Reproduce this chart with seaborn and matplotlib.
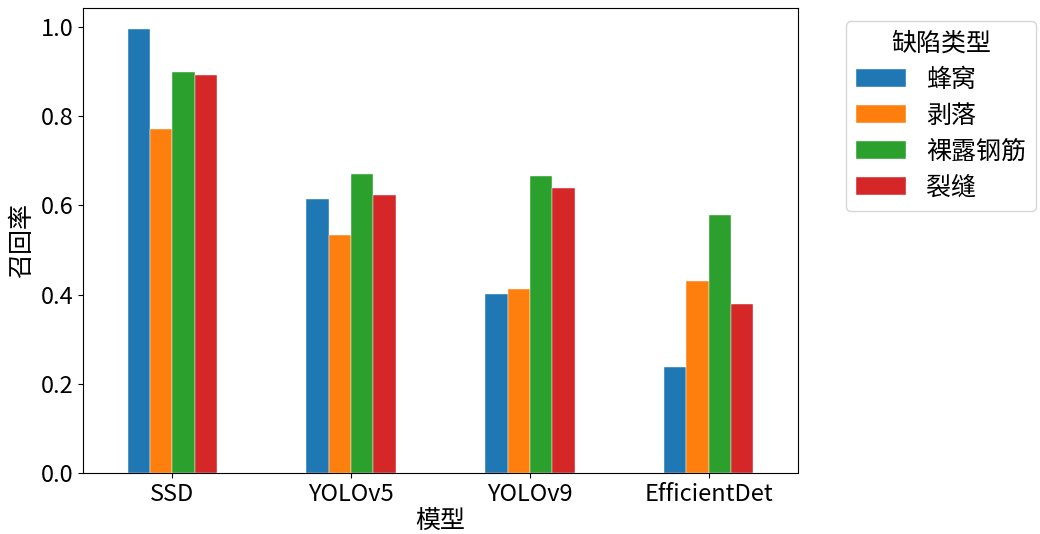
import matplotlib
matplotlib.use("Agg")
import matplotlib.pyplot as plt
import seaborn as sns
import pandas as pd

plt.rcParams['font.family'] = ['Noto Sans CJK SC', 'DejaVu Sans']
plt.rcParams['axes.unicode_minus'] = False

models = ["SSD", "YOLOv5", "YOLOv9", "EfficientDet"]
defect_types = ["蜂窝", "剥落", "裸露钢筋", "裂缝"]
recall_honeycomb = [0.994, 0.614, 0.401, 0.237]
recall_spalling = [0.772, 0.534, 0.413, 0.430]
recall_rebar = [0.899, 0.671, 0.666, 0.578]
recall_crack = [0.891, 0.623, 0.638, 0.379]

series = [recall_honeycomb, recall_spalling, recall_rebar, recall_crack]
rows = []
for dtype, vals in zip(defect_types, series):
    for m, v in zip(models, vals):
        rows.append({"模型": m, "缺陷类型": dtype, "召回率": v})
df = pd.DataFrame(rows)

fig = plt.figure(figsize=(10.4, 5.34), dpi=100)
ax = fig.add_axes([0.0798, 0.114, 0.6875, 0.871])

sns.barplot(data=df, x="模型", y="召回率", hue="缺陷类型",
            order=models, hue_order=defect_types,
            palette="tab10", saturation=1, width=0.5, gap=0,
            edgecolor="white", linewidth=0.3, errorbar=None, ax=ax)

ax.set_xlim(-0.5, 3.5)
ax.set_ylim(0, 1.042)
ax.set_yticks([0.0, 0.2, 0.4, 0.6, 0.8, 1.0])
ax.set_yticklabels(["0.0", "0.2", "0.4", "0.6", "0.8", "1.0"])
ax.tick_params(axis="both", labelsize=17)
ax.set_xlabel("模型", fontsize=18, labelpad=2)
ax.set_ylabel("召回率", fontsize=18)

leg = ax.legend(title="缺陷类型", loc="upper left", bbox_to_anchor=(1.05, 1.0),
                fontsize=18, title_fontsize=18, labelspacing=0.4)

fig.savefig("out.png", dpi=100)
